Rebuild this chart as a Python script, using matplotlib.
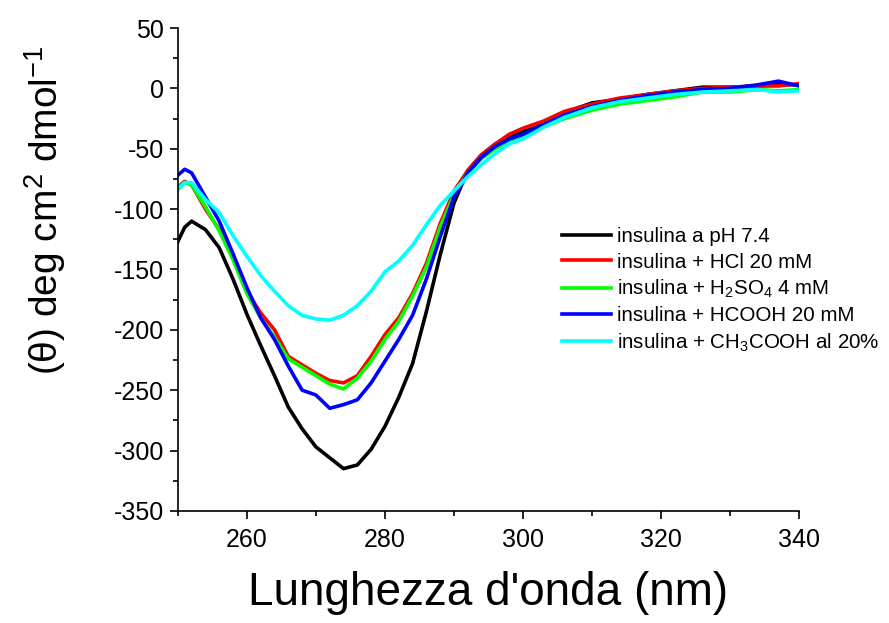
"""
Spettri CD dell'insulina in diverse condizioni (pH 7.4, HCl, H2SO4, HCOOH, CH3COOH).

Uso:
    python plot.py
Uscita:
    out.png
"""

import matplotlib
matplotlib.use("Agg")
import matplotlib.pyplot as plt
from matplotlib.ticker import MultipleLocator

# lunghezza d'onda (nm), griglia comune per le cinque curve
lunghezza_onda = [250, 251, 252, 254, 256, 258, 260, 262, 264, 266, 268, 270,
                  272, 274, 276, 278, 280, 282, 284, 286, 288, 290, 292, 294,
                  296, 298, 300, 303, 306, 310, 314, 318, 322, 326, 330, 334,
                  337, 340]

insulina_ph74 = [-127, -115, -110, -117, -132, -158, -187, -213, -238, -264,
                 -282, -297, -306, -315, -312, -299, -280, -256, -228, -185,
                 -138, -95, -68, -55, -46, -40, -36, -30, -20, -12, -9, -5,
                 -2, 1, 1, 2, 3, 3]
insulina_hcl = [-82, -77, -80, -100, -117, -140, -168, -186, -200, -222,
                -229, -236, -242, -244, -238, -222, -204, -190, -170, -145,
                -112, -85, -68, -55, -46, -38, -33, -27, -19, -13, -8, -5,
                -2, 0, 1, 2, 2, 4]
insulina_h2so4 = [-84, -78, -80, -98, -118, -142, -170, -190, -206, -224,
                  -231, -238, -245, -249, -240, -226, -208, -193, -172, -148,
                  -115, -88, -70, -58, -50, -43, -40, -32, -25, -18, -13, -10,
                  -7, -3, -3, -1, -2, -1]
insulina_hcooh = [-72, -67, -70, -90, -110, -137, -165, -190, -208, -230,
                  -250, -254, -265, -262, -258, -244, -226, -208, -188, -158,
                  -123, -90, -70, -57, -48, -42, -38, -30, -22, -15, -10, -6,
                  -3, -1, 0, 3, 6, 2]
insulina_ch3cooh = [-83, -78, -78, -92, -103, -122, -139, -155, -168, -180,
                    -188, -191, -192, -188, -180, -168, -152, -143, -130, -113,
                    -97, -85, -73, -63, -54, -46, -42, -32, -24, -16, -11, -8,
                    -5, -3, -2, -1, -3, -2]

serie = [
    (insulina_ph74, "insulina a pH 7.4", "#000000"),
    (insulina_hcl, "insulina + HCl 20 mM", "#ff0000"),
    (insulina_h2so4, r"insulina + H$_2$SO$_4$ 4 mM", "#00ff00"),
    (insulina_hcooh, "insulina + HCOOH 20 mM", "#0000ff"),
    (insulina_ch3cooh, r"insulina + CH$_3$COOH al 20%", "#00ffff"),
]

plt.rcParams["font.family"] = ["Liberation Sans", "DejaVu Sans"]
plt.rcParams["mathtext.fontset"] = "custom"
plt.rcParams["mathtext.rm"] = "Liberation Sans"
plt.rcParams["mathtext.it"] = "Liberation Sans:italic"
plt.rcParams["mathtext.default"] = "regular"
plt.rcParams["axes.unicode_minus"] = False

fig = plt.figure(figsize=(8.89, 6.23), dpi=100)
ax = fig.add_axes([0.200, 0.180, 0.699, 0.775])

for valori, etichetta, colore in serie:
    ax.plot(lunghezza_onda, valori, color=colore, lw=2.6, label=etichetta)

ax.set_xlim(250, 340)
ax.set_ylim(-350, 50)
ax.xaxis.set_major_locator(MultipleLocator(20))
ax.xaxis.set_minor_locator(MultipleLocator(10))
ax.yaxis.set_major_locator(MultipleLocator(50))
ax.yaxis.set_minor_locator(MultipleLocator(25))

# solo assi sinistro e inferiore, tacche verso l'esterno
for lato in ("top", "right"):
    ax.spines[lato].set_visible(False)
for lato in ("left", "bottom"):
    ax.spines[lato].set_linewidth(1.2)
ax.tick_params(which="major", direction="out", length=6, width=1.2,
               labelsize=18, pad=4)
ax.tick_params(which="minor", direction="out", length=3.5, width=1.2)
ax.tick_params(axis="x", which="major", pad=6)

ax.set_xlabel("Lunghezza d'onda (nm)", fontsize=33)
ax.set_ylabel(r"(θ) deg cm$^{2}$ dmol$^{-1}$", fontsize=28)
ax.xaxis.set_label_coords(0.50, -0.125)
ax.yaxis.set_label_coords(-0.177, 0.623)

ax.legend(loc="upper left", bbox_to_anchor=(0.632, 0.635),
          bbox_transform=fig.transFigure, frameon=False, fontsize=14.8,
          handlelength=2.4, handletextpad=0.3, labelspacing=0.3,
          borderpad=0, borderaxespad=0)

fig.savefig("out.png", dpi=100)
